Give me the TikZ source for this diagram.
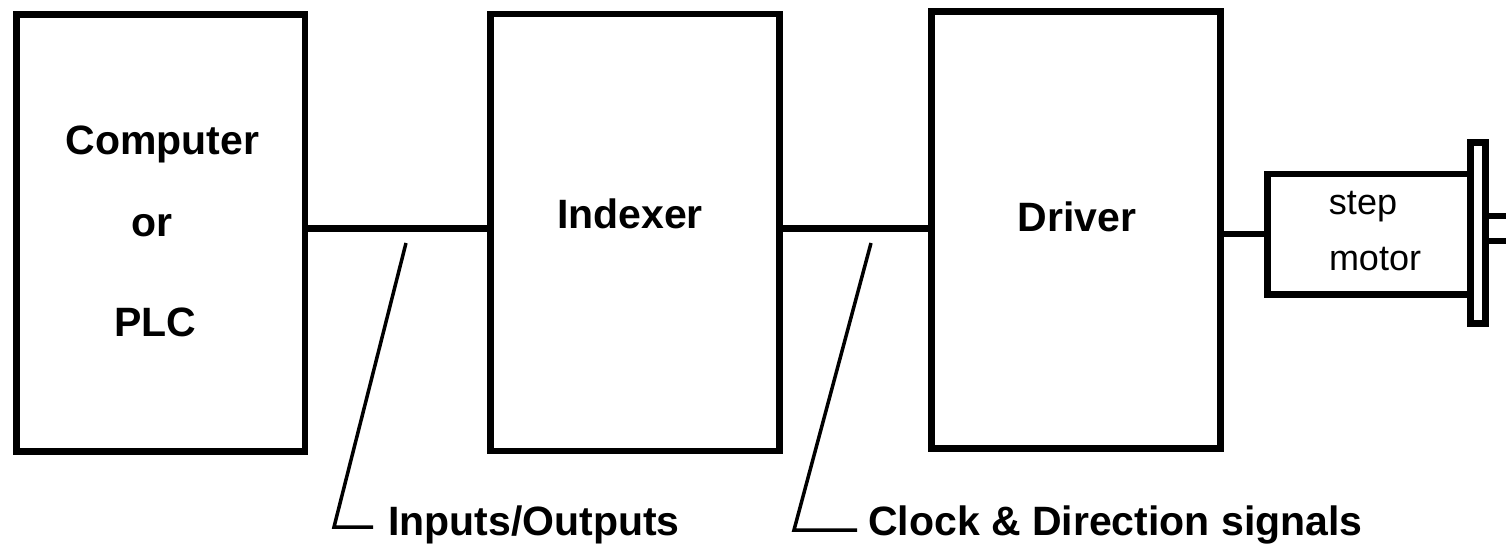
\documentclass[tikz,border=0pt]{standalone}
\usepackage{fontspec}
\setmainfont{Liberation Sans}
\begin{document}
\begin{tikzpicture}[x=1pt,y=-1pt,
  block/.style={draw=black,line width=6.5pt,rectangle,inner sep=0pt,fill=white},
  wire/.style={draw=black,line width=6.5pt},
  leader/.style={draw=black,line width=3.5pt},
  bold/.style={font=\fontsize{41}{41}\selectfont\bfseries,inner sep=0pt},
  plain/.style={font=\fontsize{36}{36}\selectfont,inner sep=0pt}]
\useasboundingbox[fill=white] (0,0) rectangle (1506,545);

% main blocks
\node[block,minimum width=288.5pt,minimum height=437pt] (comp) at (160.75,233) {};
\node[block,minimum width=289pt,minimum height=437pt] (idx) at (635,232.5) {};
\node[block,minimum width=289pt,minimum height=437pt] (drv) at (1076,230) {};

% motor body and flange
\node[block,minimum width=203pt,minimum height=120.5pt] (motor) at (1369,234.25) {};
\node[block,minimum width=15pt,minimum height=181pt] (flange) at (1478,233) {};

% block titles
\node[bold,anchor=base] (tcomp) at (162.5,155) {Computer};
\node[bold,anchor=base] (tor) at (152,237) {or};
\node[bold,anchor=base] (tplc) at (155,336) {PLC};
\node[bold,anchor=base] (tidx) at (630,229) {Indexer};
\node[bold,anchor=base] (tdrv) at (1077,232) {Driver};
\node[plain,anchor=base] (tstep) at (1363,215) {step};
\node[plain,anchor=base] (tmotor) at (1375,270) {motor};

% signal lines
\draw[wire] (comp.east |- 0,228.5) -- (idx.west |- 0,228.5);
\draw[wire] (idx.east |- 0,228.5) -- (drv.west |- 0,228.5);
\draw[wire] (drv.east |- 0,234) -- (motor.west |- 0,234);

% shaft
\coordinate (shaftA) at (1506,216);
\coordinate (shaftB) at (1506,241);
\draw[wire] (flange.east |- shaftA) -- (shaftA);
\draw[wire] (flange.east |- shaftB) -- (shaftB);

% bottom labels with leaders
\node[bold,anchor=base west] (lio) at (388,535) {Inputs/Outputs};
\node[bold,anchor=base west] (lclk) at (868,535) {Clock \& Direction signals};
\coordinate (iotip) at (406,243);
\coordinate (iocorner) at (334,527);
\coordinate (ioend) at (373,527);
\coordinate (clktip) at (871,243);
\coordinate (clkcorner) at (794,530);
\coordinate (clkend) at (857,530);
\draw[leader] (iotip) -- (iocorner) -- (ioend);
\draw[leader] (clktip) -- (clkcorner) -- (clkend);
\end{tikzpicture}
\end{document}
